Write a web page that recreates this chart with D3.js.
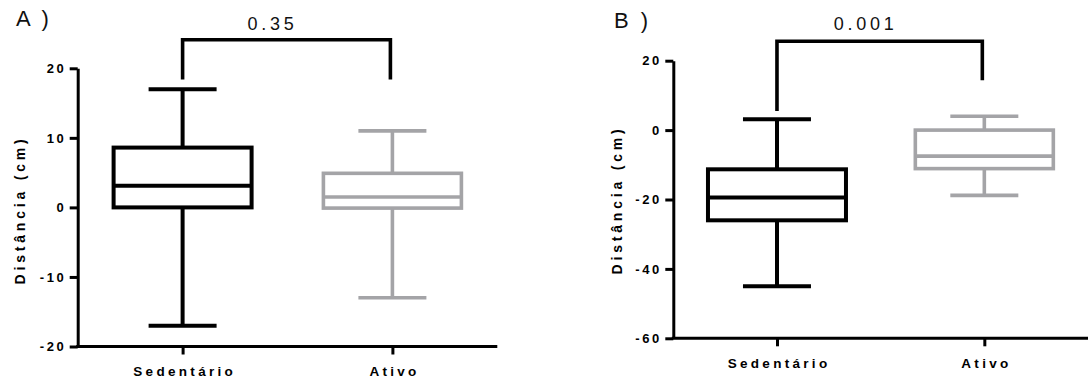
<!DOCTYPE html>
<html>
<head>
<meta charset="utf-8">
<script src="https://cdn.jsdelivr.net/npm/d3@7"></script>
<style>
  body { margin: 0; background: #fff; }
  svg { display: block; }
  svg text { font-family: Arial, "Liberation Sans", sans-serif; }
</style>
</head>
<body>
<div id="chart"></div>
<script>
// Categories and colours
const categories = ["Sedentário", "Ativo"];
const groupColors = ["#000000", "#a4a4a7"];

// Box values per group: [min, q1, median, q3, max]
const aSedentario = [-17, 0, 3.1, 8.6, 17];
const aAtivo = [-13, -0.1, 1.5, 4.9, 11];
const bSedentario = [-45, -26, -19.4, -11.3, 3.1];
const bAtivo = [-18.8, -11.1, -7.5, 0, 4];

// Y axis ticks
const yTicksA = [-20, -10, 0, 10, 20];
const yTicksB = [-60, -40, -20, 0, 20];

// Significance brackets: [top, left leg end, right leg end] and p-values
const bracketA = [24.1, 18.4, 18.4];
const bracketB = [25.6, 5.5, 14.4];
const pValueA = "0.35";
const pValueB = "0.001";

const svg = d3.select("#chart")
    .append("svg")
    .attr("width", 1088)
    .attr("height", 383);

function drawPanel(opts) {
    const g = svg.append("g");

    const y = d3.scaleLinear()
        .domain(opts.domain)
        .range([opts.bottom, opts.top]);

    const x = d3.scalePoint()
        .domain(categories)
        .range([opts.left, opts.right])
        .padding(0.5);

    // Y axis
    const yAxis = g.append("g")
        .attr("transform", `translate(${opts.left},0)`)
        .call(d3.axisLeft(y).tickValues(opts.ticks).tickFormat(d => String(d))
            .tickSize(8).tickSizeOuter(0).tickPadding(6))
        .attr("font-family", null)
        .attr("font-size", null);
    yAxis.select(".domain").attr("stroke-width", 3).attr("stroke", "#000");
    yAxis.selectAll(".tick line").attr("stroke-width", 3).attr("stroke", "#000");
    yAxis.selectAll(".tick text")
        .attr("fill", "#000")
        .style("font-size", "13px")
        .style("font-weight", "bold")
        .style("letter-spacing", "2.6px")
        .attr("dx", "2.6px");

    // X axis
    const xAxis = g.append("g")
        .attr("transform", `translate(0,${opts.bottom})`)
        .call(d3.axisBottom(x).tickSize(8).tickSizeOuter(0).tickPadding(12))
        .attr("font-family", null)
        .attr("font-size", null);
    xAxis.select(".domain").attr("stroke-width", 3).attr("stroke", "#000")
        .attr("d", `M${opts.left - 1.5},0H${opts.right}`);
    xAxis.selectAll(".tick line").attr("stroke-width", 3).attr("stroke", "#000");
    xAxis.selectAll(".tick text")
        .attr("fill", "#000")
        .attr("dx", "1.6px")
        .style("font-size", "13.5px")
        .style("font-weight", "bold")
        .style("letter-spacing", "3.3px");

    // Boxes
    const boxW = 138, capW = 68;
    opts.data.forEach((d, i) => {
        const cx = x(categories[i]);
        const col = groupColors[i];
        const bg = g.append("g")
            .attr("stroke", col)
            .attr("stroke-width", i === 0 ? 4 : 3.6)
            .attr("fill", "none");
        // whiskers
        bg.append("line").attr("x1", cx).attr("x2", cx).attr("y1", y(d[0])).attr("y2", y(d[1]));
        bg.append("line").attr("x1", cx).attr("x2", cx).attr("y1", y(d[3])).attr("y2", y(d[4]));
        // caps
        bg.append("line").attr("x1", cx - capW / 2).attr("x2", cx + capW / 2).attr("y1", y(d[0])).attr("y2", y(d[0]));
        bg.append("line").attr("x1", cx - capW / 2).attr("x2", cx + capW / 2).attr("y1", y(d[4])).attr("y2", y(d[4]));
        // box
        bg.append("rect")
            .attr("x", cx - boxW / 2)
            .attr("y", y(d[3]))
            .attr("width", boxW)
            .attr("height", y(d[1]) - y(d[3]))
            .attr("fill", "#fff");
        // median
        bg.append("line").attr("x1", cx - boxW / 2).attr("x2", cx + boxW / 2).attr("y1", y(d[2])).attr("y2", y(d[2]));
    });

    // Bracket
    const x0 = x(categories[0]), x1 = x(categories[1]) - 2;
    g.append("path")
        .attr("fill", "none")
        .attr("stroke", "#000")
        .attr("stroke-width", 3.6)
        .attr("d", `M${x0},${y(opts.bracket[1])}V${y(opts.bracket[0])}H${x1}V${y(opts.bracket[2])}`);

    // p-value sits a little left of the bracket centre, as in the original
    g.append("text")
        .attr("x", (x0 + x1) / 2 - 14)
        .attr("y", opts.pY)
        .attr("text-anchor", "middle")
        .attr("fill", "#111")
        .style("font-size", "18px")
        .style("letter-spacing", "3.8px")
        .text(opts.pValue);

    // Panel letter
    g.append("text")
        .attr("x", opts.letterX)
        .attr("y", opts.letterY)
        .attr("fill", "#111")
        .style("font-size", "22px")
        .style("letter-spacing", "3px")
        .text(opts.letter);

    // Y axis label
    g.append("text")
        .attr("transform", `translate(${opts.labelX},${opts.labelY}) rotate(-90)`)
        .attr("text-anchor", "middle")
        .attr("fill", "#000")
        .style("font-size", "14px")
        .style("font-weight", "bold")
        .style("letter-spacing", "3.8px")
        .text("Distância (cm)");
}

drawPanel({
    left: 77.7, right: 497.3, top: 68.3, bottom: 346.5,
    domain: [-20, 20], ticks: yTicksA,
    data: [aSedentario, aAtivo],
    bracket: bracketA, pValue: pValueA, pY: 30,
    letter: "A )", letterX: 16, letterY: 25.5,
    labelX: 25, labelY: 210
});

drawPanel({
    left: 673.3, right: 1088, top: 60.7, bottom: 338.3,
    domain: [-60, 20], ticks: yTicksB,
    data: [bSedentario, bAtivo],
    bracket: bracketB, pValue: pValueB, pY: 29.5,
    letter: "B )", letterX: 614, letterY: 28.3,
    labelX: 621.5, labelY: 200
});
</script>
</body>
</html>
